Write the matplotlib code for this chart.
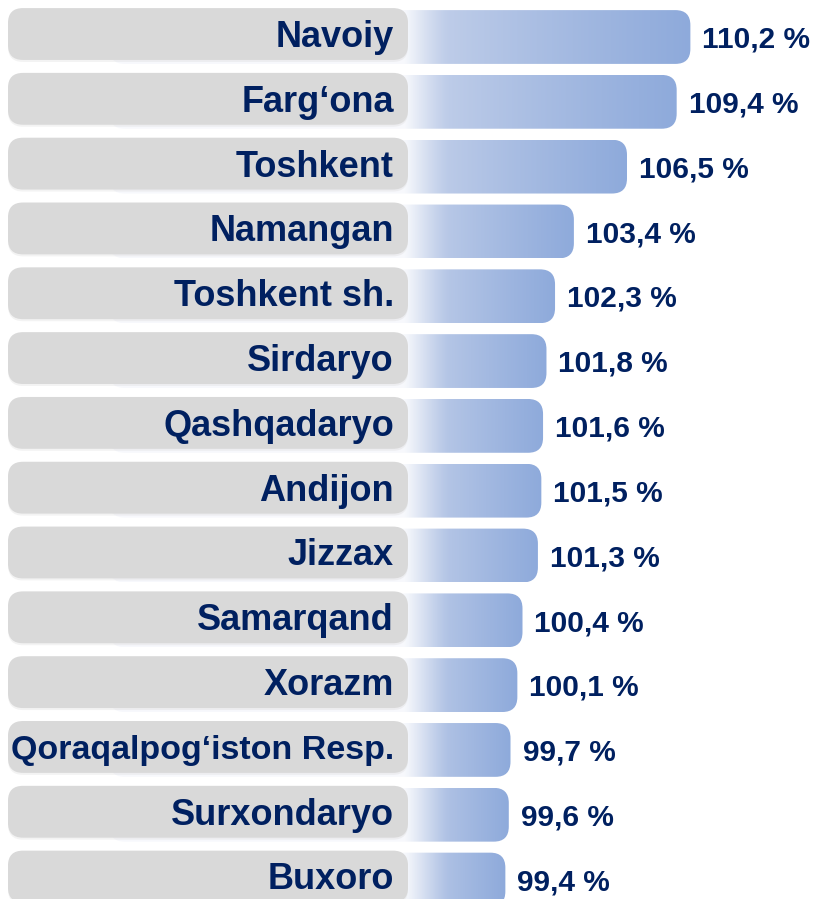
import numpy as np
import matplotlib
matplotlib.use("Agg")
import matplotlib.pyplot as plt
from matplotlib.patches import FancyBboxPatch
from matplotlib.transforms import blended_transform_factory
from matplotlib.colors import to_rgb

# Ma'lumotlar (yuqoridan pastga)
REGIONS = ["Navoiy", "Farg\u2018ona", "Toshkent", "Namangan", "Toshkent sh.",
           "Sirdaryo", "Qashqadaryo", "Andijon", "Jizzax", "Samarqand",
           "Xorazm", "Qoraqalpog\u2018iston Resp.", "Surxondaryo", "Buxoro"]
VALUES = [110.2, 109.4, 106.5, 103.4, 102.3, 101.8, 101.6,
          101.5, 101.3, 100.4, 100.1, 99.7, 99.6, 99.4]
VALUE_LABELS = [f"{v:.1f} %".replace(".", ",") for v in VALUES]

W, H, DPI = 824, 899, 100
XLIM = (69.9, 118.0)
YLIM = (13.30, -0.571)
BAR_START = 76.3
BAR_H = 0.83
BOX_H = 0.80
RADIUS = 15          # px
BOX_LEFT, BOX_RIGHT = 8, 408   # px
LABEL_X = 394                  # px
CAP = 0.716                    # cap height / em

BLUE = np.array(to_rgb("#8EAADB"))
LIGHT = np.array(to_rgb("#CAD5EC"))
WHITE = np.ones(3)
NAVY = "#002060"
FONT = "Liberation Sans"

fig = plt.figure(figsize=(W / DPI, H / DPI), dpi=DPI)
ax = fig.add_axes([0, 0, 1, 1])
ax.axis("off")

px_x = W / (XLIM[1] - XLIM[0])   # px per unit
px_y = H / (YLIM[0] - YLIM[1])   # px per row
blend = blended_transform_factory(ax.transAxes, ax.transData)


def cap_px(size):
    return CAP * size * DPI / 72


for i, (name, v, lab) in enumerate(zip(REGIONS, VALUES, VALUE_LABELS)):
    # gradient bar
    bar = FancyBboxPatch((BAR_START, i - BAR_H / 2), v - BAR_START, BAR_H,
                         boxstyle=f"round,pad=0,rounding_size={RADIUS / px_x}",
                         mutation_aspect=px_x / px_y, fc="none", ec="none", zorder=2)
    ax.add_patch(bar)
    xs = np.linspace(BAR_START, v, 500)
    px = (xs - XLIM[0]) * px_x
    t = np.clip((px - BOX_RIGHT) / (px[-1] - BOX_RIGHT), 0, 1) ** 0.8
    base = LIGHT[None, :] + (BLUE - LIGHT)[None, :] * t[:, None]
    glow = 0.85 * np.clip(1 - (px - BOX_RIGHT + 4) / 45, 0, 1) ** 1.4
    col = base * (1 - glow[:, None]) + WHITE[None, :] * glow[:, None]
    im = ax.imshow(col[None, :, :], extent=(BAR_START, v, i + BAR_H / 2, i - BAR_H / 2),
                   aspect="auto", interpolation="bilinear", zorder=2)
    im.set_clip_path(bar)

    # gray label box + soft shadow
    yc = i - 3 / px_y
    for dy, fc, alpha, z in [(2, "#d0d0d0", 0.25, 3), (0, "#d9d9d9", 1.0, 4)]:
        box = FancyBboxPatch((BOX_LEFT / W, yc - BOX_H / 2 + dy / px_y),
                             (BOX_RIGHT - BOX_LEFT) / W, BOX_H,
                             boxstyle=f"round,pad=0,rounding_size={RADIUS / W}",
                             mutation_aspect=W / px_y, transform=blend,
                             fc=fc, ec="none", alpha=alpha, zorder=z)
        ax.add_patch(box)

    size = 26 if len(name) < 16 else 24.5
    ax.annotate(name, xy=(LABEL_X / W, yc), xycoords=blend,
                xytext=(0, -cap_px(size) / 2), textcoords="offset pixels",
                ha="right", va="baseline", fontsize=size, fontweight="bold",
                color=NAVY, family=FONT, zorder=5)
    ax.annotate(lab, xy=(v, i), xytext=(12, -cap_px(21.5) / 2),
                textcoords="offset pixels", ha="left", va="baseline",
                fontsize=21.5, fontweight="bold", color=NAVY, family=FONT, zorder=5)

ax.set_xlim(XLIM)
ax.set_ylim(YLIM)
fig.savefig("out.png", dpi=DPI)
